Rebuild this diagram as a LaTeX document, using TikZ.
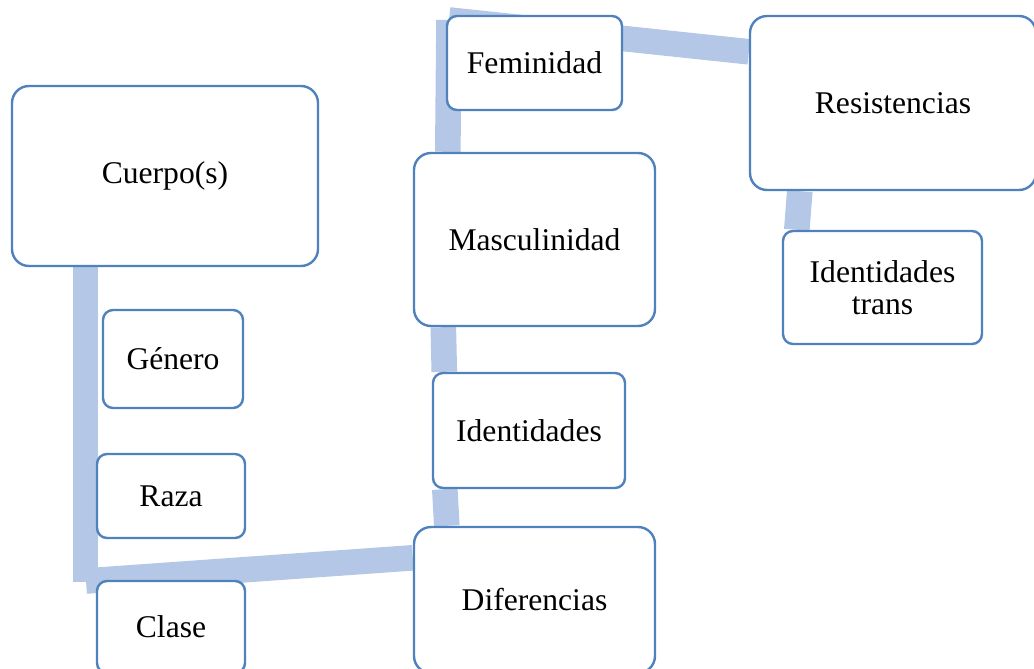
\documentclass[tikz,border=0pt]{standalone}
\usepackage{fontspec}
\setmainfont{Liberation Serif}
\usepackage{tikz}
\usetikzlibrary{backgrounds,calc}
\definecolor{boxline}{RGB}{79,129,189}
\definecolor{bandblue}{RGB}{180,199,231}

\begin{document}
\begin{tikzpicture}[x=0.5pt,y=-0.5pt,
	box/.style={draw=boxline, line width=1.2pt, fill=white, rounded corners=5pt,
		align=center, inner sep=0pt, font=\fontsize{15.8}{16}\selectfont},
	bigbox/.style={box, rounded corners=8.5pt},
	band/.style={draw=bandblue, line width=12.8pt}]

	\useasboundingbox (0,0) rectangle (1034,669);
	\clip (0,0) rectangle (1034,669);

	% left column
	\node[bigbox, minimum width=153pt, minimum height=90pt] (cuerpo) at (165,176) {Cuerpo(s)};
	\node[box, minimum width=70pt, minimum height=49pt] (genero) at (173,359) {Género};
	\node[box, minimum width=74pt, minimum height=42pt] (raza) at (171,496) {Raza};
	\node[box, minimum width=74pt, minimum height=46pt] (clase) at (171,627) {Clase};

	% middle column
	\node[bigbox, minimum width=120.5pt, minimum height=73pt] (diferencias) at (534.5,600) {Diferencias};
	\node[box, minimum width=96pt, minimum height=57.5pt] (identidades) at (529,430.5) {Identidades};
	\node[bigbox, minimum width=120.5pt, minimum height=86.5pt] (masculinidad) at (534.5,239.5) {Masculinidad};
	\node[box, minimum width=87.5pt, minimum height=47pt] (feminidad) at (534.5,63) {Feminidad};

	% right column
	\node[bigbox, minimum width=143pt, minimum height=87pt] (resistencias) at (893,103) {Resistencias};
	\node[box, minimum width=99.5pt, minimum height=56.5pt] (trans) at (882.5,287.5) {Identidades\\trans};

	\coordinate (cornerL) at (85.5,582);
	\coordinate (cornerR) at (449,20);

	\begin{scope}[on background layer]
		\draw[band] (cuerpo.south -| cornerL) -- (cornerL);
		\draw[band] ($(cornerL)+(0.5,-1)$) -- ($(diferencias.north west)+(0,32)$);
		\draw[band] ($(diferencias.north west)+(34,0)$) -- ($(identidades.south west)+(13,0)$);
		\draw[band] ($(identidades.north west)+(12.5,0)$) -- ($(masculinidad.south west)+(30.5,0)$);
		\draw[band] ($(masculinidad.north west)+(35,0)$) -- (cornerR);
		\draw[band] (cornerR) -- ($(resistencias.north west)+(0,37)$);
		\draw[band] ($(resistencias.south west)+(51,0)$) -- ($(trans.north west)+(15,0)$);
	\end{scope}
\end{tikzpicture}
\end{document}
